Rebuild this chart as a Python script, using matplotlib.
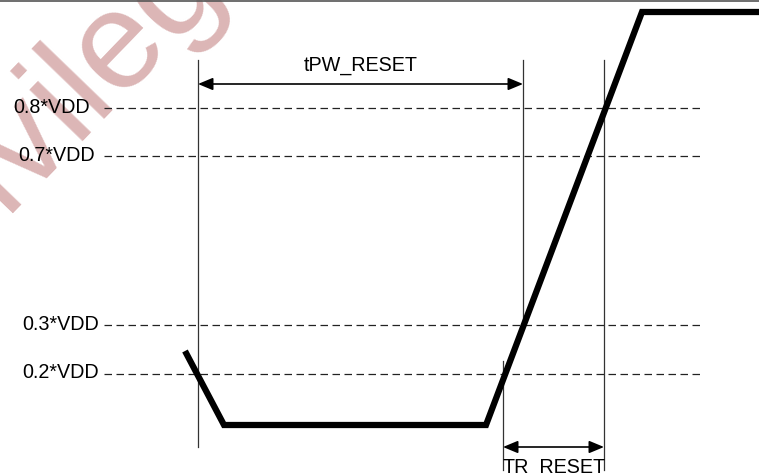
import matplotlib
matplotlib.use('Agg')
import matplotlib.pyplot as plt

# diagram units: x = time (px-ish), y = signal height (px-ish, up)
level_names = ['0.8*VDD', '0.7*VDD', '0.3*VDD', '0.2*VDD']
level_y = [366, 318, 149, 100]
label_right = [90, 95, 99, 99]

signal_t = [185, 224, 486, 642, 762]
signal_v = [123, 49, 49, 462, 462]

# timing markers: (x, y_bottom, y_top)
markers = [(198, 27, 414), (523, 147, 414), (503, 4, 113), (604, 4, 414)]
pw_span = (198, 523)
tr_span = (503, 604)

plt.rcParams['font.family'] = ['Liberation Sans', 'DejaVu Sans']

fig = plt.figure(figsize=(7.59, 4.74), dpi=100)
ax = fig.add_axes([0, 0, 1, 1])
ax.set_xlim(0, 759)
ax.set_ylim(0, 474)
ax.axis('off')

# watermark
ax.text(-92, 163, 'Privileged', rotation=46, rotation_mode='anchor',
        ha='left', va='baseline', fontsize=100, color='#dcb6b6', zorder=0)

# top border
ax.axhline(473, color='#555555', lw=1.2, zorder=1)

# threshold levels
for name, y, xr in zip(level_names, level_y, label_right):
    ax.plot([104, 700], [y, y], color='#222222', lw=0.9,
            dashes=(6, 3.6), zorder=2)
    ax.text(xr, y + 1, name, ha='right', va='center', fontsize=14.2, zorder=3)

# vertical markers
for x, y0, y1 in markers:
    ax.plot([x, x], [y0, y1], color='#333333', lw=0.9, zorder=2)

# signal
ax.plot(signal_t, signal_v, color='black', lw=4.5,
        solid_joinstyle='miter', solid_capstyle='butt', zorder=4)

arrow = dict(arrowstyle='<|-|>,head_length=0.6,head_width=0.25', color='black',
             lw=1.2, mutation_scale=15, shrinkA=0, shrinkB=0)
ax.annotate('', xy=(pw_span[0], 390), xytext=(pw_span[1], 390), arrowprops=arrow)
ax.text(sum(pw_span) / 2, 409, 'tPW_RESET', ha='center', va='center', fontsize=14.2)

ax.annotate('', xy=(tr_span[0], 27), xytext=(tr_span[1], 27), arrowprops=arrow)
ax.text(sum(tr_span) / 2 + 1, 1, 'TR_RESET', ha='center', va='baseline', fontsize=14.2)

fig.savefig('out.png', dpi=100)
